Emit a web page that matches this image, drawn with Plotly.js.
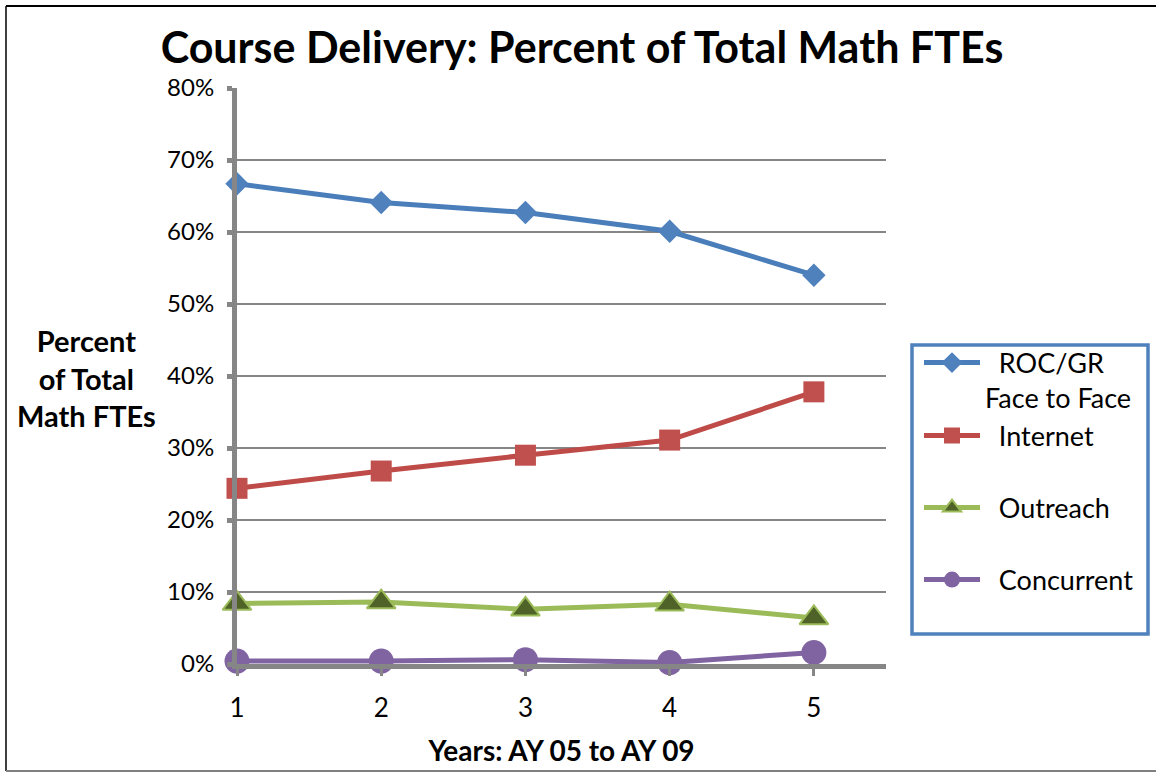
<!DOCTYPE html>
<html>
<head>
<meta charset="utf-8">
<script src="https://cdn.plot.ly/plotly-3.0.1.min.js"></script>
<style>html,body{margin:0;padding:0;background:#fff;}#chart{width:1156px;height:774px;}</style>
</head>
<body>
<div id="chart"></div>
<script>
// ---- data ----
var years = [1, 2, 3, 4, 5];
var faceToFace = [66.7, 64.1, 62.7, 60.1, 54.0];
var internet = [24.4, 26.8, 29.0, 31.1, 37.8];
var outreach = [8.4, 8.6, 7.6, 8.3, 6.4];
var concurrent = [0.4, 0.4, 0.6, 0.2, 1.6];
var seriesNames = ["ROC/GR<br>Face to Face", "Internet", "Outreach", "Concurrent"];
var yTicks = [0, 10, 20, 30, 40, 50, 60, 70, 80];

var FONT = "Lato, 'Open Sans', sans-serif";
var L = 237, R = 886, T = 88, B = 664, W = 1156, H = 774;
function px(x) { return (x - L) / (R - L); }
function py(y) { return (B - y) / (B - T); }
var IND = '\u00A0\u00A0';

var traces = [
  {x: years, y: faceToFace, name: IND + seriesNames[0], legend: 'legend', mode: 'lines+markers', cliponaxis: false,
   line: {color: '#4A7EBB', width: 5}, marker: {symbol: 'diamond', size: 18, color: '#4F81BD'}},
  {x: years, y: internet, name: IND + seriesNames[1], legend: 'legend2', mode: 'lines+markers', cliponaxis: false,
   line: {color: '#BE4B48', width: 5}, marker: {symbol: 'square', size: 21, color: '#C0504D'}},
  {x: years, y: outreach, name: IND + seriesNames[2], legend: 'legend3', mode: 'lines+markers', cliponaxis: false,
   line: {color: '#9BBB59', width: 5}, marker: {symbol: 'triangle-up', size: 25, color: '#4F6228', line: {color: '#9BBB59', width: 2}}},
  {x: years, y: concurrent, name: IND + seriesNames[3], legend: 'legend4', mode: 'lines+markers', cliponaxis: false,
   line: {color: '#8064A2', width: 5}, marker: {symbol: 'circle', size: 25, color: '#8064A2'}}
];

function leg(y, extra) {
  var o = {x: px(919), xanchor: 'left', y: y, yanchor: 'middle', bgcolor: 'rgba(0,0,0,0)', borderwidth: 0,
    itemwidth: 56, font: {family: FONT, size: 27, color: '#000'}};
  for (var k in extra) o[k] = extra[k];
  return o;
}

var layout = {
  width: W, height: H, autosize: false,
  margin: {l: L, r: W - R, t: T, b: H - B, pad: 0, autoexpand: false},
  paper_bgcolor: '#fff', plot_bgcolor: '#fff',
  font: {family: FONT, color: '#000'},
  title: {text: '<b>Course Delivery: Percent of Total Math FTEs</b>', font: {family: FONT, size: 43, color: '#000'},
    x: 582 / W, xanchor: 'center', xref: 'container', y: 1 - 48 / H, yanchor: 'middle', yref: 'container'},
  xaxis: {range: [1, 5.5], tickvals: years, ticktext: years.map(String), showgrid: false, zeroline: false,
    showline: true, linecolor: '#868686', linewidth: 5, ticks: 'outside', ticklen: 7, tickwidth: 3, tickcolor: '#868686',
    tickfont: {family: FONT, size: 26, color: '#000'}, ticklabelstandoff: 10,
    title: {text: '<b>Years: AY 05 to AY 09</b>', font: {family: FONT, size: 28, color: '#000'}, standoff: 21}},
  yaxis: {range: [0, 80], tickvals: yTicks, ticktext: yTicks.map(function (v) { return v + '%'; }),
    showgrid: true, gridcolor: '#868686', gridwidth: 1.5, zeroline: false,
    showline: true, linecolor: '#868686', linewidth: 5, ticks: 'outside', ticklen: 5, tickwidth: 5, tickcolor: '#868686',
    tickfont: {family: FONT, size: 24, color: '#000'}, ticklabelstandoff: 8},
  legend: leg(py(380.5), {valign: 'top'}),
  legend2: leg(py(436)),
  legend3: leg(py(508)),
  legend4: leg(py(580)),
  annotations: [
    {text: '<b>Percent<br>of Total<br>Math FTEs</b>', xref: 'paper', yref: 'paper', x: px(86), y: py(378),
     xanchor: 'center', yanchor: 'middle', align: 'center', showarrow: false,
     font: {family: FONT, size: 29, color: '#000'}}
  ],
  shapes: [
    {type: 'rect', xref: 'paper', yref: 'paper', x0: px(912), x1: px(1148), y0: py(634), y1: py(345),
     line: {color: '#4F81BD', width: 3.5}, fillcolor: 'rgba(0,0,0,0)'},
    {type: 'line', xref: 'paper', yref: 'paper', x0: px(6), x1: px(1156), y0: py(6), y1: py(6), line: {color: '#000', width: 2}},
    {type: 'line', xref: 'paper', yref: 'paper', x0: px(6), x1: px(6), y0: py(6), y1: py(771), line: {color: '#000', width: 1.5}},
    {type: 'line', xref: 'paper', yref: 'paper', x0: px(6), x1: px(1156), y0: py(771), y1: py(771), line: {color: '#808080', width: 2}}
  ],
  showlegend: true
};

Plotly.newPlot('chart', traces, layout, {displayModeBar: false, staticPlot: true});
</script>
</body>
</html>
